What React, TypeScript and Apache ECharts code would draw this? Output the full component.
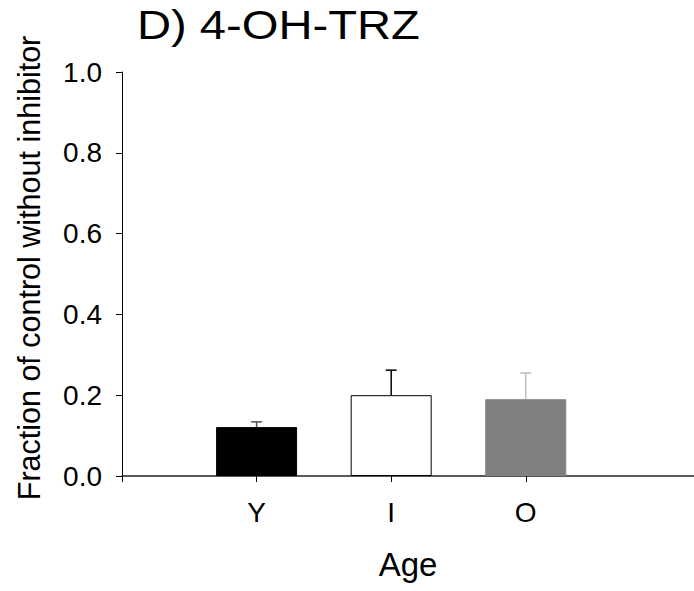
import React, { useEffect, useRef } from "react";
import * as echarts from "echarts";

const categories = ["Y", "I", "O"];
const positions = [1, 2, 3];
const means = [0.121, 0.2, 0.19];
const errors = [0.013, 0.062, 0.065];
const barColors = ["#000000", "#ffffff", "#808080"];
const barBorders = ["#000000", "#000000", "#808080"];
const errColors = ["#555555", "#000000", "#c0c0c0"];

const FONT = "Liberation Sans, Arial, sans-serif";

export default function App() {
  const ref = useRef<HTMLDivElement>(null);
  useEffect(() => {
    if (!ref.current) return;
    const chart = echarts.init(ref.current, undefined, { renderer: "svg" });
    const barData = positions.map((p, i) => ({
      value: [p, means[i]],
      itemStyle: { color: barColors[i], borderColor: barBorders[i], borderWidth: 1 },
    }));
    const errData = positions.map((p, i) => [p, means[i], means[i] + errors[i], i]);
    chart.setOption({
      animation: false,
      backgroundColor: "#ffffff",
      graphic: [
        {
          type: "text",
          left: 137,
          top: 4,
          scaleX: 1.15,
          style: { text: "D) 4-OH-TRZ", font: `41px ${FONT}`, fill: "#000" },
        },
      ],
      grid: { left: 122, top: 72, right: 0, bottom: 115, containLabel: false },
      xAxis: {
        type: "value",
        min: 0,
        max: 4.25,
        interval: 1,
        splitLine: { show: false },
        axisLine: { show: true, lineStyle: { color: "#222", width: 1.5 } },
        axisTick: { show: true, length: 6, lineStyle: { color: "#000" }, customValues: [0, 1, 2, 3] },
        axisLabel: {
          customValues: positions,
          formatter: (v: number) => categories[positions.indexOf(v)] ?? "",
          fontFamily: FONT,
          fontSize: 28,
          color: "#000",
          margin: 22,
        },
        name: "Age",
        nameLocation: "middle",
        nameGap: 72,
        nameTextStyle: { fontFamily: FONT, fontSize: 33, color: "#000" },
      },
      yAxis: {
        type: "value",
        min: 0,
        max: 1,
        interval: 0.2,
        splitLine: { show: false },
        axisLine: { show: true, lineStyle: { color: "#000", width: 1 } },
        axisTick: { show: true, length: 6, lineStyle: { color: "#000" } },
        axisLabel: {
          formatter: (v: number) => v.toFixed(1),
          fontFamily: FONT,
          fontSize: 28,
          color: "#000",
          margin: 20,
          showMaxLabel: true,
        },
        name: "Fraction of control without inhibitor",
        nameLocation: "middle",
        nameRotate: 90,
        nameGap: 78,
        nameTextStyle: { fontFamily: FONT, fontSize: 30.5, color: "#000", padding: [0, 0, 0, 12] },
      },
      series: [
        {
          type: "custom",
          z: 1,
          renderItem: (params: any, api: any) => {
            const x = api.value(0);
            const y0 = api.coord([x, api.value(1)]);
            const y1 = api.coord([x, api.value(2)]);
            const c = errColors[api.value(3)];
            return {
              type: "group",
              children: [
                { type: "line", shape: { x1: y0[0], y1: y0[1], x2: y1[0], y2: y1[1] }, style: { stroke: c, lineWidth: 1.5 } },
                { type: "line", shape: { x1: y1[0] - 5.5, y1: y1[1], x2: y1[0] + 5.5, y2: y1[1] }, style: { stroke: c, lineWidth: 1.5 } },
              ],
            };
          },
          data: errData,
        },
        {
          type: "bar",
          z: 2,
          barWidth: 81,
          data: barData,
        },
      ],
    });
    return () => chart.dispose();
  }, []);
  return <div ref={ref} style={{ width: 694, height: 591, position: "absolute", left: 0, top: 0 }} />;
}
